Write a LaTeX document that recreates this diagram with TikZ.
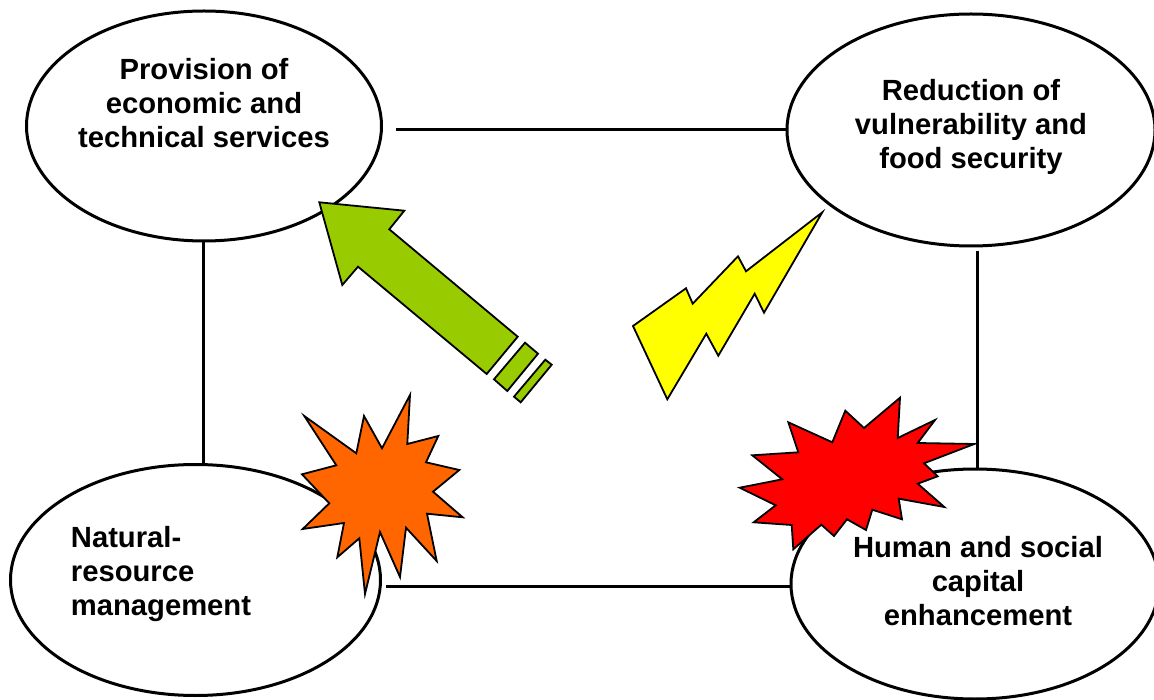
\documentclass[tikz,border=0pt]{standalone}
\usepackage{fontspec}
\setmainfont{Liberation Sans}
\definecolor{leafgreen}{HTML}{99CC00}
\definecolor{blastorange}{HTML}{FF6600}
\definecolor{boltyellow}{HTML}{FFFF00}
\definecolor{blastred}{HTML}{FF0000}
\tikzset{
    every node/.append style={
        font=\fontsize{29.2}{34}\selectfont\bfseries
    },
    goal/.style={
        draw,
        ellipse,
        line width=3pt,
        fill=white,
        inner sep=0pt
    },
    link/.style={
        draw,
        line width=3pt
    },
    caption/.style={
        align=center,
        inner sep=0pt
    },
    burst/.style={
        draw,
        line width=1.8pt,
        line join=miter,
        miter limit=10
    }
}
\usetikzlibrary{shapes.geometric}

\begin{document}
\begin{tikzpicture}[x=1pt,y=-1pt]
    \useasboundingbox (0,0) rectangle (1154,700);

    \node[goal, minimum width=355pt, minimum height=230pt] (provision) at (204,126) {};
    \node[goal, minimum width=368pt, minimum height=232pt] (reduction) at (971,130) {};
    \node[goal, minimum width=370pt, minimum height=231pt] (natural) at (195.5,580) {};
    \node[goal, minimum width=368pt, minimum height=230pt] (human) at (975,584) {};

    \node[caption] (provisiontext) at (204,103) {Provision of\\economic and\\technical services};
    \node[caption] (reductiontext) at (971,126.5) {Reduction of\\vulnerability and\\food security};
    \node[caption, align=left] (naturaltext) at (161,574.5) {Natural-\\resource\\management};
    \node[caption] (humantext) at (978,581.5) {Human and social\\capital\\enhancement};

    \draw[link] ([xshift=13pt,yshift=-3.5pt]provision.east) -- ([yshift=0.5pt]reduction.west);
    \draw[link] (provision.south -| 203,0) -- (natural.north -| 203,0);
    \draw[link] ([yshift=-4pt]reduction.south -| 977,0) -- (human.north -| 977,0);
    \draw[link] ([xshift=4pt,yshift=-6pt]natural.east) -- ([yshift=-2pt]human.west);

    % arrow
    \draw[burst, fill=leafgreen] (319.3,202.3) -- (404.3,210.7) -- (389.3,229.3) -- (517.7,336.7)
        -- (486.7,374) -- (358,266.7) -- (342.3,285) -- cycle;
    \draw[burst, fill=leafgreen] (525,342.7) -- (538,353.7) -- (507.3,391) -- (494,379.3) -- cycle;
    \draw[burst, fill=leafgreen] (545.3,359.7) -- (551.7,364.7) -- (520.7,402.3) -- (514,396.7) -- cycle;

    % lightning
    \draw[burst, fill=boltyellow] (822.3,212.3) -- (764,312.7) -- (754.7,293.7) -- (718.3,355.7)
        -- (706.3,333.7) -- (667.3,399.3) -- (633,326) -- (686,288.3) -- (692.7,303.7)
        -- (738,256.3) -- (746,271.3) -- cycle;

    % orange burst
    \draw[burst, fill=blastorange] (410,395) -- (407.3,444) -- (438.3,436) -- (426,462.3)
        -- (459.3,470) -- (433,491.7) -- (462.7,517.3) -- (427,513.7) -- (436.7,561)
        -- (406,527.7) -- (400,577) -- (380,532) -- (365,594) -- (359.3,538.3)
        -- (337.3,557.3) -- (344,523) -- (302.7,529) -- (329.3,503.3) -- (302,474.3)
        -- (336.3,465.3) -- (304.3,416) -- (356.3,453.3) -- (364,416) -- (382,448.3) -- cycle;

    % red burst
    \draw[burst, fill=blastred] (900,397.7) -- (897.7,438) -- (935,420) -- (917.7,443) -- (974.3,444)
        -- (924,463.3) -- (937.7,476.3) -- (917.7,483.7) -- (944.3,507) -- (898.7,498.7)
        -- (902,519.3) -- (872.3,509.7) -- (866,530) -- (847,519.3) -- (834,536)
        -- (821.3,524.7) -- (793.3,549.3) -- (791.7,525) -- (753.7,522.3) -- (775.7,505.3)
        -- (739.7,487.7) -- (782.3,479.3) -- (752.3,455.3) -- (798.3,452.3) -- (788.3,422.3)
        -- (832.3,442.3) -- (845.3,410.7) -- (864,428) -- cycle;
\end{tikzpicture}
\end{document}
